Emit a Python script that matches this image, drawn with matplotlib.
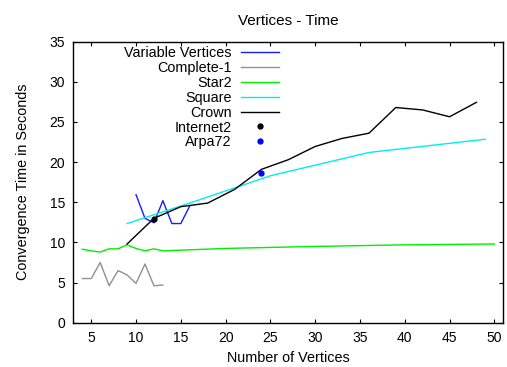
import numpy as np
import matplotlib.pyplot as plt

plt.rcParams['font.family'] = ['Liberation Sans', 'DejaVu Sans']
plt.rcParams['font.size'] = 10.4

# measured convergence times (seconds) per topology
var_x = [10, 11, 12, 13, 14, 15, 16]
var_y = [15.95, 13.0, 12.45, 15.2, 12.35, 12.35, 14.55]

comp_x = [4, 5, 6, 7, 8, 9, 10, 11, 12, 13]
comp_y = [5.5, 5.5, 7.5, 4.6, 6.5, 5.95, 4.9, 7.3, 4.6, 4.7]

star_x = [4, 5, 6, 7, 8, 9, 10, 11, 12, 13, 20, 30, 40, 50]
star_y = [9.15, 8.95, 8.8, 9.2, 9.2, 9.7, 9.25, 8.95, 9.2, 8.95, 9.25, 9.5, 9.7, 9.8]

square_x = [9, 16, 25, 36, 49]
square_y = [12.35, 14.9, 18.3, 21.2, 22.85]

crown_x = [9, 12, 15, 18, 21, 24, 27, 30, 33, 36, 39, 42, 45, 48]
crown_y = [9.8, 13.0, 14.45, 14.9, 16.6, 19.1, 20.3, 21.95, 22.95, 23.6, 26.8, 26.5, 25.65, 27.45]

inet_x, inet_y = [12], [12.9]
arpa_x, arpa_y = [24], [18.6]

fig = plt.figure(figsize=(5.07, 3.67), dpi=100)
ax = fig.add_axes([0.1446, 0.1207, 0.8481, 0.7657])

ax.plot(var_x, var_y, color='#1a1aff', lw=1.0, label='Variable Vertices')
ax.plot(comp_x, comp_y, color='#909090', lw=1.0, label='Complete-1')
ax.plot(star_x, star_y, color='#00ee00', lw=1.0, label='Star2')
ax.plot(square_x, square_y, color='#00eeee', lw=1.0, label='Square')
ax.plot(crown_x, crown_y, color='black', lw=1.0, label='Crown')
ax.plot(inet_x, inet_y, 'o', color='black', ms=3.5, label='Internet2')
ax.plot(arpa_x, arpa_y, 'o', color='#0000ff', ms=3.5, label='Arpa72')

ax.set_xlim(3, 51)
ax.set_ylim(0, 35)
ax.set_xticks(np.arange(5, 51, 5))
ax.set_yticks(np.arange(0, 36, 5))
ax.tick_params(direction='in', top=True, right=True, length=3, width=0.8, pad=6,
               labelsize=10)
for s in ax.spines.values():
    s.set_linewidth(1.0)

ax.set_title('Vertices - Time', fontsize=11, pad=12)
ax.set_xlabel('Number of Vertices', labelpad=4)
ax.set_ylabel('Convergence Time in Seconds', labelpad=14)

leg = ax.legend(loc='upper left', bbox_to_anchor=(0.095, 1.02), frameon=False,
                markerfirst=False, handlelength=2.65, handletextpad=0.65,
                labelspacing=0.06, borderpad=0.2, numpoints=1)

fig.savefig('out.png', dpi=100)
